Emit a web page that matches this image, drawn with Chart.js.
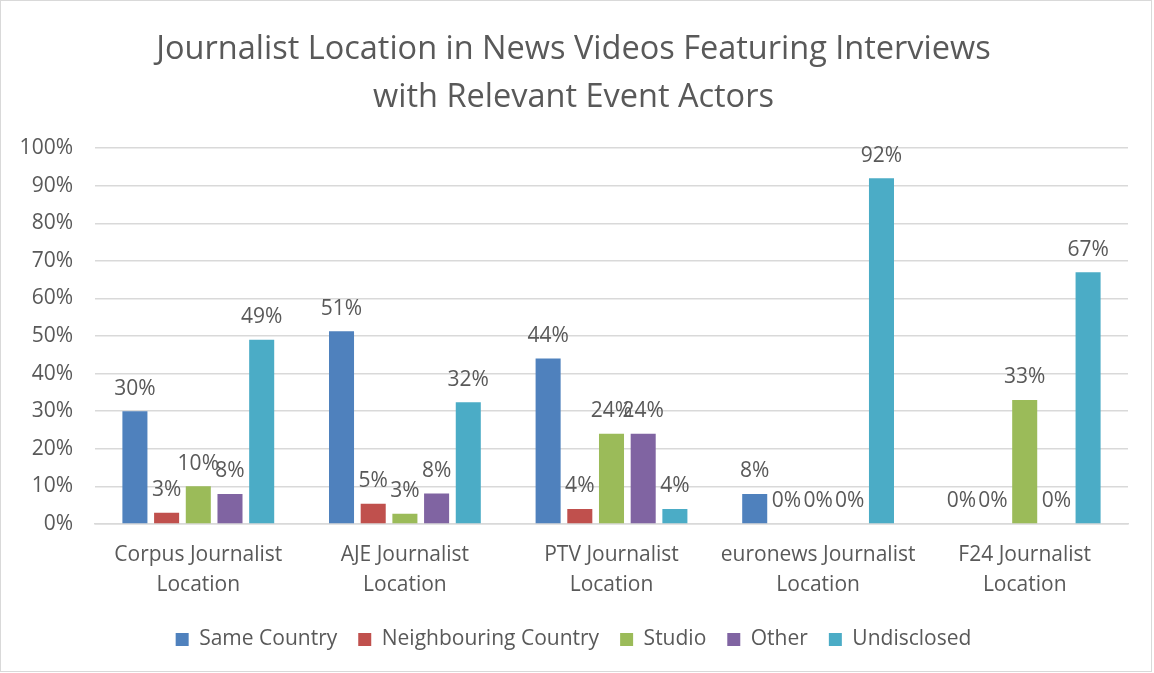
<!DOCTYPE html>
<html>
<head>
<meta charset="utf-8">
<script src="https://cdn.jsdelivr.net/npm/chart.js@4"></script>
<style>
  body { margin: 0; background: #fff; }
  #wrap { width: 1150px; height: 670px; border: 1px solid #d9d9d9; }
</style>
</head>
<body>
<div id="wrap"><canvas id="grafico"></canvas></div>
<script>
const categorias = [
  ["Corpus Journalist", "Location"],
  ["AJE Journalist", "Location"],
  ["PTV Journalist", "Location"],
  ["euronews Journalist", "Location"],
  ["F24 Journalist", "Location"]
];
const mismoPais = [30, 51.3, 44, 8, 0];
const paisVecino = [3, 5.4, 4, 0, 0];
const estudio = [10, 2.7, 24, 0, 33];
const otro = [8, 8.1, 24, 0, 0];
const noRevelado = [49, 32.4, 4, 92, 67];

const fuente = "'Open Sans', sans-serif";
const gris = "#595959";

// etiquetas de valor encima de cada barra
const etiquetas = {
  id: "etiquetas",
  afterDatasetsDraw(chart) {
    const c = chart.ctx;
    c.save();
    c.font = "21px " + fuente;
    c.fillStyle = gris;
    c.textAlign = "center";
    c.textBaseline = "bottom";
    chart.data.datasets.forEach((ds, i) => {
      chart.getDatasetMeta(i).data.forEach((bar, j) => {
        c.fillText(Math.round(ds.data[j]) + "%", bar.x, bar.y - 12);
      });
    });
    c.restore();
  }
};

const ctx = document.getElementById("grafico").getContext("2d");

const chart = new Chart(ctx, {
  type: "bar",
  data: {
    labels: categorias,
    datasets: [
      { label: "Same Country", data: mismoPais, backgroundColor: "#4F81BD" },
      { label: "Neighbouring Country", data: paisVecino, backgroundColor: "#C0504D" },
      { label: "Studio", data: estudio, backgroundColor: "#9BBB59" },
      { label: "Other", data: otro, backgroundColor: "#8064A2" },
      { label: "Undisclosed", data: noRevelado, backgroundColor: "#4BACC6" }
    ]
  },
  options: {
    responsive: true,
    maintainAspectRatio: false,
    animation: false,
    categoryPercentage: 0.767,
    barPercentage: 0.79,
    layout: { padding: { left: 18, right: 23, bottom: 11 } },
    plugins: {
      title: {
        display: true,
        text: ["Journalist Location in News Videos Featuring Interviews", "with Relevant Event Actors"],
        color: gris,
        font: { family: fuente, size: 32.5, weight: "normal", lineHeight: 1.48 },
        padding: { top: 25, bottom: 26 }
      },
      legend: {
        position: "bottom",
        labels: {
          color: gris,
          boxWidth: 13,
          boxHeight: 13,
          padding: 21,
          font: { family: fuente, size: 21, lineHeight: 0.8 }
        }
      },
      tooltip: { enabled: false }
    },
    scales: {
      x: {
        grid: { display: false },
        border: { color: "#d9d9d9", width: 1.5 },
        ticks: {
          color: gris,
          maxRotation: 0,
          padding: 8,
          font: { family: fuente, size: 21, lineHeight: 1.43 }
        }
      },
      y: {
        min: 0,
        max: 100,
        border: { display: false },
        grid: { color: "#d9d9d9", lineWidth: 1.5, drawTicks: false },
        afterFit: (s) => { s.width = 76; },
        ticks: {
          stepSize: 10,
          padding: 22,
          color: gris,
          font: { family: fuente, size: 21 },
          callback: (v) => v + "%"
        }
      }
    }
  },
  plugins: [etiquetas]
});
</script>
</body>
</html>
